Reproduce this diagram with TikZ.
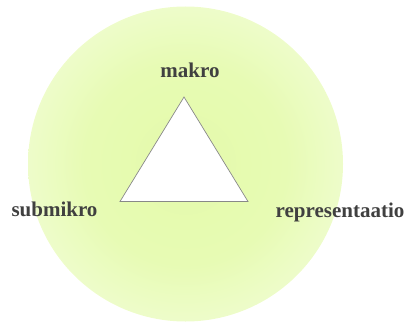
\documentclass[tikz,border=0pt]{standalone}
\usepackage{fontspec}
\setmainfont{Liberation Serif}
\definecolor{glowin}{RGB}{228,250,170}
\definecolor{glowmid}{RGB}{231,251,180}
\definecolor{glowout}{RGB}{245,254,226}
\definecolor{labelgray}{RGB}{64,64,64}
\definecolor{edgegray}{RGB}{136,136,136}
\pgfdeclareradialshading{glow}{\pgfpoint{0bp}{0bp}}{color(0bp)=(glowin); color(16bp)=(glowmid); color(35bp)=(glowout); color(50bp)=(glowout)}
\tikzset{
  lbl/.style={font=\bfseries\fontsize{21}{24}\selectfont, text=labelgray, inner sep=0pt, anchor=base},
}
\begin{document}
\begin{tikzpicture}[x=1pt,y=1pt]
\useasboundingbox (0,0) rectangle (406,322);
\shade[shading=glow] (185.5,158) circle (157.5);
\coordinate (top) at (184,225);
\coordinate (bl) at (120,120.5);
\coordinate (br) at (248,120.5);
\draw[edgegray, line width=0.7pt, fill=white, line join=miter] (top) -- (bl) -- (br) -- cycle;
\node[lbl] (makro) at (190,245) {makro};
\node[lbl] (sub) at (54.5,106) {submikro};
\node[lbl] (rep) at (340,105) {representaatio};
\end{tikzpicture}
\end{document}
